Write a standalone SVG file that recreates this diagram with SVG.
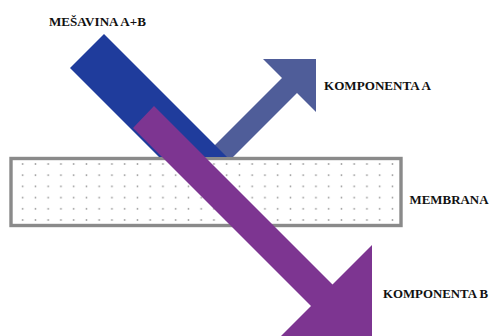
<svg xmlns="http://www.w3.org/2000/svg" width="489" height="336" viewBox="0 0 489 336">
  <defs>
    <pattern id="dots" patternUnits="userSpaceOnUse" x="16.3" y="158.4" width="12.75" height="11.2">
      <circle cx="6.4" cy="5.6" r="0.9" fill="#9a9a9a"/>
    </pattern>
    <style>
      text { font-family: 'Liberation Serif', 'DejaVu Serif', serif; font-weight: 700; font-size: 13px; fill: #111111; }
      .mem { fill: url(#dots); stroke: #8a8a8a; stroke-width: 3.4; }
    </style>
  </defs>
  <rect width="489" height="336" fill="#ffffff"/>

  <g id="membrane">
    <rect class="mem" x="11" y="158.5" width="390" height="67"/>
    <text x="409.5" y="204" textLength="79" lengthAdjust="spacingAndGlyphs">MEMBRANA</text>
  </g>

  <g id="connectors">
    <polygon id="arrow-a" fill="#4f5d99" points="203,157 282,78 263,59 316,59 316,112 297,93 233,157"/>
    <polygon id="mix-flow" fill="#1f3c9c" points="104,34 227,157 159,157 70,68"/>
    <polygon id="arrow-b" fill="#7d3591" points="154,106 332.5,284.5 372,245 372,345.5 271.5,345.5 311,306 133,128"/>
  </g>

  <g id="label-mix">
    <text x="49" y="26" textLength="97" lengthAdjust="spacingAndGlyphs">MEŠAVINA A+B</text>
  </g>
  <g id="label-a">
    <text x="324" y="89.5" textLength="107" lengthAdjust="spacingAndGlyphs">KOMPONENTA A</text>
  </g>
  <g id="label-b">
    <text x="383" y="297.5" textLength="105" lengthAdjust="spacingAndGlyphs">KOMPONENTA B</text>
  </g>
</svg>
